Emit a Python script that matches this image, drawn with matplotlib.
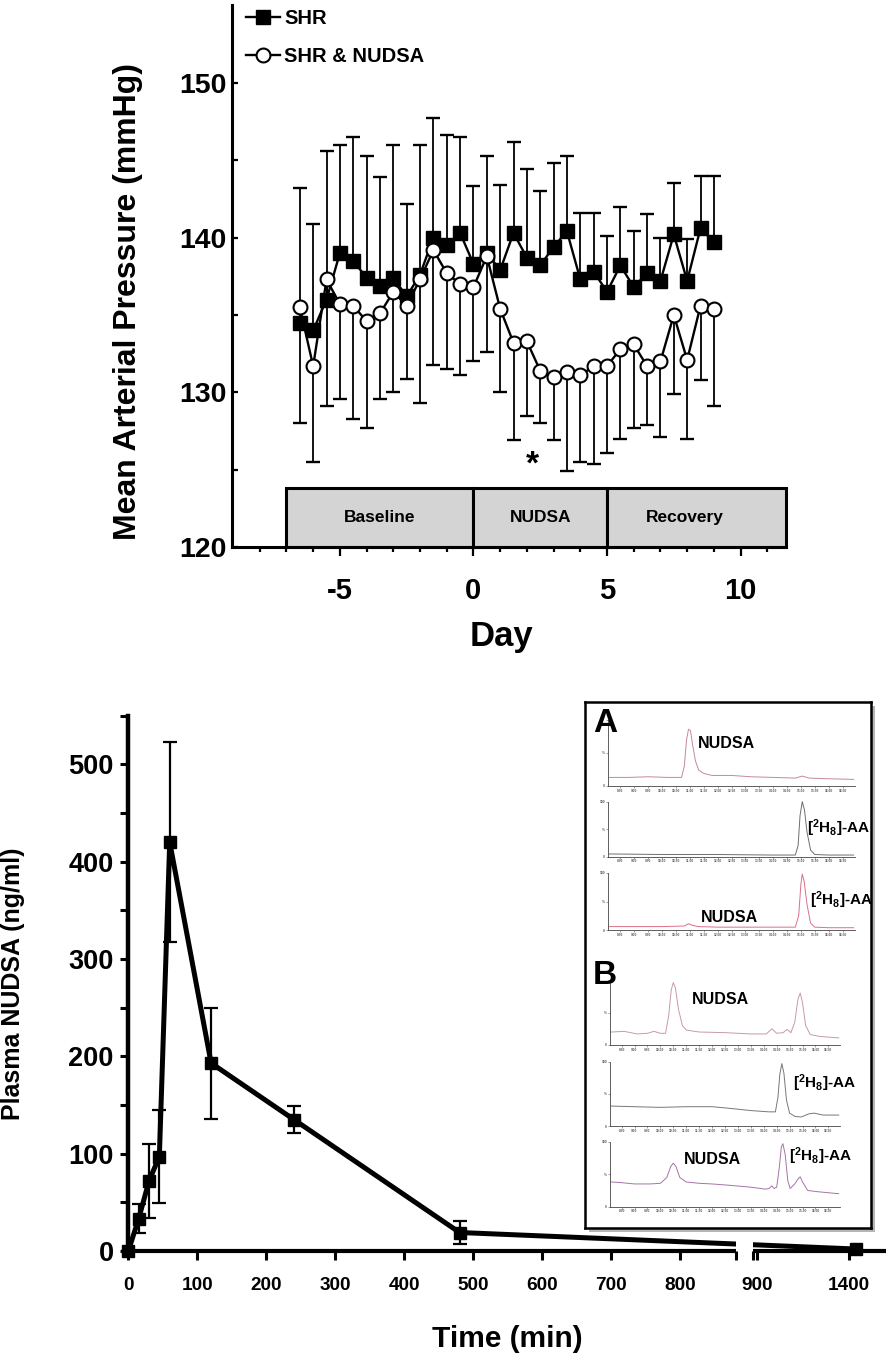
import numpy as np
import matplotlib
matplotlib.use("Agg")
import matplotlib.pyplot as plt
from matplotlib.patches import Rectangle

plt.rcParams['font.family'] = ['Liberation Sans', 'DejaVu Sans']
plt.rcParams['font.weight'] = 'bold'
plt.rcParams['mathtext.fontset'] = 'custom'
plt.rcParams['mathtext.rm'] = 'Liberation Sans:bold'
plt.rcParams['mathtext.it'] = 'Liberation Sans:bold'
plt.rcParams['mathtext.bf'] = 'Liberation Sans:bold'
plt.rcParams['mathtext.default'] = 'bf'

# ---------------- Top panel data (mean arterial pressure, mmHg) ----------------
day = [-6.5, -6.0, -5.5, -5.0, -4.5, -4.0, -3.5, -3.0, -2.5, -2.0, -1.5, -1.0,
       -0.5, 0.0, 0.5, 1.0, 1.5, 2.0, 2.5, 3.0, 3.5, 4.0, 4.5, 5.0, 5.5, 6.0,
       6.5, 7.0, 7.5, 8.0, 8.5, 9.0]
shr_map = [134.5, 134.0, 136.0, 139.0, 138.5, 137.4, 136.9, 137.4, 136.2, 137.6,
           140.0, 139.5, 140.3, 138.3, 139.0, 137.9, 140.3, 138.7, 138.2, 139.4,
           140.4, 137.3, 137.8, 136.5, 138.2, 136.8, 137.7, 137.2, 140.2, 137.2,
           140.6, 139.7]
shr_sem = [8.7, 6.9, 9.6, 7.0, 8.0, 7.9, 7.0, 8.6, 6.0, 8.4, 7.7, 7.1, 6.2, 5.0,
           6.3, 5.5, 5.9, 5.7, 4.8, 5.4, 4.9, 4.3, 3.8, 3.6, 3.8, 3.6, 3.8, 2.8,
           3.3, 2.7, 3.4, 4.3]
nudsa_map = [135.5, 131.7, 137.3, 135.7, 135.6, 134.6, 135.1, 136.5, 135.6, 137.3,
             139.2, 137.7, 137.0, 136.8, 138.8, 135.4, 133.2, 133.3, 131.4, 131.0,
             131.3, 131.1, 131.7, 131.7, 132.8, 133.1, 131.7, 132.0, 135.0, 132.1,
             135.6, 135.4]
nudsa_sem = [7.5, 6.2, 8.2, 6.1, 7.3, 6.9, 5.5, 6.5, 4.7, 8.0, 7.4, 6.2, 5.9, 4.8,
             6.2, 5.4, 6.3, 4.8, 3.4, 4.1, 6.4, 5.6, 6.3, 5.6, 5.8, 5.4, 3.8, 4.9,
             5.1, 5.1, 4.8, 6.3]
phase_edges = [-7.0, 0.0, 5.0, 11.7]
phase_labels = ["Baseline", "NUDSA", "Recovery"]
phase_label_day = [-3.5, 2.5, 7.9]
sig_day = [2.2]
sig_level = [125.3]

# ---------------- Bottom panel data (plasma NUDSA, ng/ml) ----------------
time_min = [0, 15, 30, 45, 60, 120, 240, 480, 1440]
plasma_nudsa = [0, 33, 72, 97, 420, 193, 135, 19, 2]
plasma_sem = [0, 15, 38, 48, 103, 57, 14, 11.5, 1.5]
time_ticks = [0, 100, 200, 300, 400, 500, 600, 700, 800, 900, 1400]
conc_ticks = [0, 100, 200, 300, 400, 500]

# ---------------- Inset chromatogram traces (retention time min, % intensity) ----
trace_a1_t = [8.1, 8.8, 9.5, 10.2, 10.7, 10.8, 10.88, 10.95, 11.02, 11.1, 11.2, 11.32,
              11.5, 11.8, 12.5, 13.2, 14.0, 14.8, 15.05, 15.3, 16.0, 16.9]
trace_a1_y = [13, 13, 14, 13, 13, 30, 70, 86, 84, 62, 38, 24, 19, 16, 16, 14, 13, 12,
              15, 12, 11, 10]
trace_a2_t = [8.1, 10.0, 12.0, 14.0, 14.8, 14.9, 14.97, 15.05, 15.13, 15.22, 15.35,
              15.5, 16.0, 16.9]
trace_a2_y = [5, 4, 4, 3, 3, 20, 75, 100, 85, 45, 12, 4, 3, 3]
trace_a3_t = [8.1, 9.0, 10.0, 10.8, 10.95, 11.1, 11.3, 12.0, 13.0, 14.0, 14.8, 14.92,
              15.0, 15.05, 15.12, 15.22, 15.35, 15.5, 16.0, 16.9]
trace_a3_y = [6, 6, 6, 7, 11, 8, 6, 5, 5, 5, 5, 25, 80, 98, 85, 45, 12, 5, 4, 4]
trace_b1_t = [8.1, 8.6, 9.1, 9.5, 9.75, 10.0, 10.2, 10.32, 10.42, 10.5, 10.58, 10.7,
              10.85, 11.0, 11.5, 12.5, 13.5, 14.1, 14.31, 14.5, 14.75, 14.9, 15.05,
              15.2, 15.32, 15.41, 15.5, 15.62, 15.8, 16.2, 16.9]
trace_b1_y = [20, 21, 17, 18, 21, 18, 18, 45, 85, 96, 88, 55, 30, 23, 20, 19, 17, 17,
              25, 18, 19, 24, 19, 35, 70, 80, 65, 30, 16, 13, 11]
trace_b2_t = [8.1, 9.0, 10.0, 11.0, 12.0, 12.55, 13.5, 14.2, 14.45, 14.55, 14.62, 14.7,
              14.78, 14.88, 15.0, 15.2, 15.45, 15.75, 15.95, 16.3, 16.9]
trace_b2_y = [31, 30, 29, 30, 30, 28, 24, 22, 22, 45, 80, 97, 82, 40, 20, 15, 14, 19,
              20, 17, 17]
trace_b3_t = [8.1, 8.5, 9.0, 9.6, 10.0, 10.25, 10.4, 10.5, 10.6, 10.75, 11.0, 11.5,
              12.0, 12.65, 13.5, 14.07, 14.2, 14.31, 14.4, 14.5, 14.6, 14.68, 14.74,
              14.83, 14.93, 15.02, 15.2, 15.35, 15.41, 15.5, 15.7, 16.1, 16.9]
trace_b3_y = [38, 37, 35, 35, 36, 45, 62, 67, 62, 45, 38, 36, 35, 33, 30, 27, 28, 32,
              28, 30, 60, 92, 97, 80, 40, 28, 35, 44, 46, 38, 25, 23, 20]

# ---------------- Figure ----------------
W, H = 886, 1359
fig = plt.figure(figsize=(W / 100, H / 100), dpi=100)


def fig_rect(left, top, right, bottom):
    return [left / W, 1 - bottom / H, (right - left) / W, (bottom - top) / H]


# ======== Top panel ========
ax1 = fig.add_axes(fig_rect(231.7, 5.3, 786, 547.3))
ax1.set_xlim(-9.05, 11.7)
ax1.set_ylim(120, 155)
for s in ['top', 'right']:
    ax1.spines[s].set_visible(False)
for s in ['left', 'bottom']:
    ax1.spines[s].set_linewidth(2.2)

box_top = 123.8
for i, lab in enumerate(phase_labels):
    ax1.add_patch(Rectangle((phase_edges[i], 120), phase_edges[i + 1] - phase_edges[i],
                            box_top - 120, facecolor='#d4d4d4', edgecolor='black',
                            lw=2.2, zorder=2, clip_on=False))
    ax1.text(phase_label_day[i], 121.9, lab, ha='center', va='center',
             fontsize=12.5, fontweight='bold', zorder=3)

shr_upper = np.array(shr_map) + np.array(shr_sem)
nudsa_lower = np.array(nudsa_map) - np.array(nudsa_sem)
ax1.vlines(day, shr_map, shr_upper, colors='black', lw=1.3, zorder=3)
ax1.plot(day, shr_upper, ls='none', marker='_', ms=9.6, mew=1.7, color='black', zorder=3)
ax1.vlines(day, nudsa_lower, nudsa_map, colors='black', lw=1.3, zorder=3)
ax1.plot(day, nudsa_lower, ls='none', marker='_', ms=9.6, mew=1.7, color='black', zorder=3)

l_shr, = ax1.plot(day, shr_map, '-s', color='black', lw=1.7, ms=9.5, zorder=4, label='SHR')
l_nud, = ax1.plot(day, nudsa_map, '-o', color='black', mfc='white', mec='black', mew=1.5,
                  lw=1.7, ms=10, zorder=5, label='SHR & NUDSA')

for d, v in zip(sig_day, sig_level):
    ax1.text(d, v, '*', fontsize=24, ha='center', va='center', fontweight='bold')

ax1.set_xticks([-5, 0, 5, 10])
ax1.set_xticklabels(['-5', '0', '5', '10'])
ax1.set_xticks(list(range(-8, 12)), minor=True)
ax1.set_yticks([120, 130, 140, 150])
ax1.set_yticks([125, 135, 145], minor=True)
ax1.tick_params(axis='x', which='major', length=6.5, width=1.6, pad=15, labelsize=21)
ax1.tick_params(axis='x', which='minor', length=3.6, width=1.6)
ax1.tick_params(axis='y', which='both', direction='in', length=4, width=1.6, pad=4,
                labelsize=20.5)
for t in ax1.get_xticklabels() + ax1.get_yticklabels():
    t.set_fontweight('bold')
ax1.set_xlabel('Day', fontsize=25, fontweight='bold')
ax1.xaxis.set_label_coords(0.486, -0.134)
ax1.set_ylabel('Mean Arterial Pressure (mmHg)', fontsize=23, fontweight='bold')
ax1.yaxis.set_label_coords(-0.16, 0.4526)

ax1.legend(handles=[l_shr, l_nud], loc='upper left', bbox_to_anchor=(246 / W, 1 - 9 / H),
           bbox_transform=fig.transFigure, frameon=False, borderpad=0, borderaxespad=0,
           handlelength=1.7, handletextpad=0.2, labelspacing=0.95,
           prop={'size': 14.5, 'weight': 'bold'})

# ======== Bottom panel (broken time axis) ========
BRK0, BRK1 = 880.0, 882.0
GAP = 25.8
SEG2 = 0.2675
GAP_SLOPE = GAP / (BRK1 - BRK0)


def brk_fwd(x):
    x = np.asarray(x, dtype=float)
    return np.where(x <= BRK0, x,
                    np.where(x <= BRK1, BRK0 + (x - BRK0) * GAP_SLOPE,
                             BRK0 + GAP + (x - BRK1) * SEG2))


def brk_inv(u):
    u = np.asarray(u, dtype=float)
    return np.where(u <= BRK0, u,
                    np.where(u <= BRK0 + GAP, BRK0 + (u - BRK0) / GAP_SLOPE,
                             BRK1 + (u - BRK0 - GAP) / SEG2))


ax2 = fig.add_axes(fig_rect(128.3, 1251 - 550 * 0.9735, 886, 1251))
ax2.set_xscale('function', functions=(brk_fwd, brk_inv))
ax2.set_xlim(0, 1600)
ax2.set_ylim(0, 550)
for s in ['top', 'right', 'bottom']:
    ax2.spines[s].set_visible(False)
ax2.spines['left'].set_linewidth(3.2)

ax2.errorbar(time_min, plasma_nudsa, yerr=plasma_sem, fmt='none', ecolor='black',
             elinewidth=1.6, capsize=5, capthick=1.6, zorder=3, clip_on=False)
ax2.plot(time_min, plasma_nudsa, '-s', color='black', lw=3.6, ms=9, zorder=4,
         clip_on=False)
ax2.add_patch(Rectangle((BRK0, 0.8), BRK1 - BRK0, 18, facecolor='white',
                        edgecolor='none', zorder=5))
ax2.hlines([0, 0], [0, BRK1], [BRK0, 1600], colors='black', lw=3.0, zorder=6,
           clip_on=False)

ax2.set_xticks(time_ticks)
ax2.set_xticklabels([str(t) for t in time_ticks])
ax2.set_xticks([BRK0, BRK1], minor=True)
ax2.set_yticks(conc_ticks)
ax2.set_yticks([50, 150, 250, 350, 450, 550], minor=True)
ax2.tick_params(axis='x', which='both', length=6.5, width=2.2, pad=12, labelsize=13.7)
ax2.tick_params(axis='y', which='both', length=6, width=2.2, pad=4.5, labelsize=19.5)
for t in ax2.get_xticklabels() + ax2.get_yticklabels():
    t.set_fontweight('bold')
ax2.set_xlabel('Time (min)', fontsize=21.5, fontweight='bold')
ax2.xaxis.set_label_coords(0.5, -0.138)
ax2.set_ylabel('Plasma NUDSA (ng/ml)', fontsize=18, fontweight='bold')
ax2.yaxis.set_label_coords(-0.136, 0.5)

# ======== Inset: LC-MS chromatograms ========
inset = fig.add_axes(fig_rect(585, 702, 871, 1228), zorder=3)
inset.set_xticks([])
inset.set_yticks([])
for s in inset.spines.values():
    s.set_linewidth(1.8)
    s.set_color('black')
shadow = Rectangle(((585 + 4) / W, 1 - (1228 + 4) / H), (871 - 585) / W, (1228 - 702) / H,
                   transform=fig.transFigure, facecolor='#b5b5b5', edgecolor='none',
                   zorder=2)
fig.add_artist(shadow)

trace_specs = [
    ((608, 720, 855, 786), trace_a1_t, trace_a1_y, '#c48a96', False),
    ((608, 801.7, 855, 856.7), trace_a2_t, trace_a2_y, '#6e6e6e', True),
    ((608, 873, 855, 930), trace_a3_t, trace_a3_y, '#d9708a', True),
    ((610, 980, 840, 1045), trace_b1_t, trace_b1_y, '#c79aab', False),
    ((610, 1061.7, 840, 1126), trace_b2_t, trace_b2_y, '#777777', True),
    ((610, 1141.7, 840, 1206.7), trace_b3_t, trace_b3_y, '#a574a8', True),
]
rt_ticks = list(np.arange(8.5, 16.51, 0.5))
for rect, tt, yy, col, top_lab in trace_specs:
    axc = fig.add_axes(fig_rect(*rect), zorder=4)
    axc.patch.set_alpha(0)
    axc.plot(tt, yy, color=col, lw=0.7, clip_on=False)
    axc.set_xlim(8.05, 16.95)
    axc.set_ylim(0, 100)
    for s in ['top', 'right']:
        axc.spines[s].set_visible(False)
    for s in ['left', 'bottom']:
        axc.spines[s].set_linewidth(0.6)
        axc.spines[s].set_color('#444444')
    axc.set_xticks(rt_ticks)
    axc.set_xticklabels(['%.2f' % v for v in rt_ticks])
    axc.set_yticks([0, 50, 100])
    axc.set_yticklabels(['0', '%', '100' if top_lab else ''])
    axc.tick_params(length=1.2, width=0.4, pad=0.8, labelsize=2.3, colors='#555555')

lab_kw = dict(ha='center', va='center', fontweight='bold', color='black', zorder=10)
fig.text(605 / W, 1 - 724 / H, 'A', fontsize=24, **lab_kw)
fig.text(605 / W, 1 - 976 / H, 'B', fontsize=24, **lab_kw)
fig.text(726 / W, 1 - 743 / H, 'NUDSA', fontsize=11.5, **lab_kw)
fig.text(729 / W, 1 - 918 / H, 'NUDSA', fontsize=11.5, **lab_kw)
fig.text(720 / W, 1 - 1000 / H, 'NUDSA', fontsize=11.5, **lab_kw)
fig.text(712 / W, 1 - 1160 / H, 'NUDSA', fontsize=11.5, **lab_kw)
is_label = r'[$^{2}$H$_{8}$]-AA'
fig.text(838 / W, 1 - 828 / H, is_label, fontsize=11, **lab_kw)
fig.text(841 / W, 1 - 900 / H, is_label, fontsize=11, **lab_kw)
fig.text(824 / W, 1 - 1083 / H, is_label, fontsize=11, **lab_kw)
fig.text(820 / W, 1 - 1156 / H, is_label, fontsize=11, **lab_kw)

fig.savefig('out.png', dpi=100)
